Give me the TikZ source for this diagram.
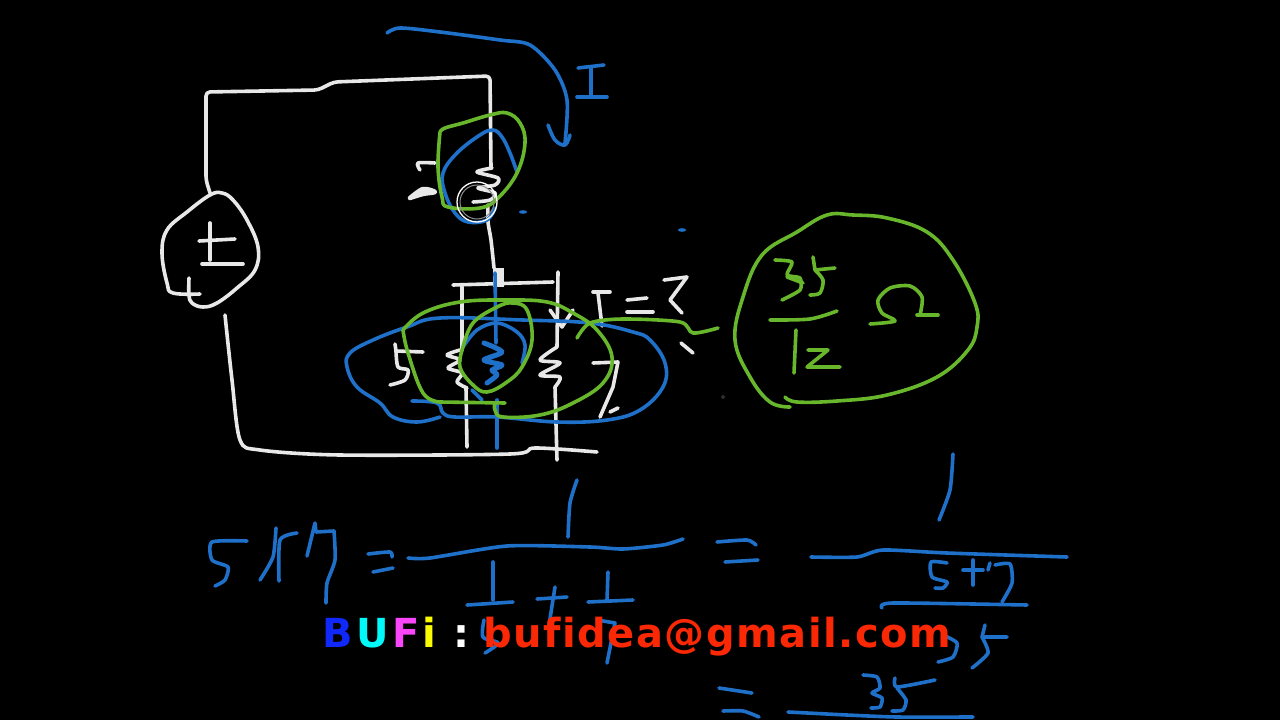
\documentclass[tikz,border=0pt]{standalone}
\usepackage{fontspec}
\newfontfamily\logofont[LetterSpace=3.8, Ligatures={NoCommon}]{DejaVu Sans}
\definecolor{inkblue}{RGB}{31,112,200}
\definecolor{inkgreen}{RGB}{104,182,44}
\definecolor{inkwhite}{RGB}{232,232,232}
\definecolor{logoblue}{RGB}{16,40,250}
\definecolor{logored}{RGB}{250,40,5}
\definecolor{logopink}{RGB}{250,70,250}
\definecolor{logocyan}{RGB}{0,250,250}
\definecolor{logoyellow}{RGB}{250,250,0}
\tikzset{
  ink/.style={line width=3.6pt, line cap=round, line join=round},
  whiteink/.style={ink, inkwhite},
  blueink/.style={ink, inkblue},
  greenink/.style={ink, inkgreen},
  logotext/.style={anchor=base west, inner sep=0pt, font=\fontsize{40}{40}\logofont\bfseries}
}
\begin{document}
\begin{tikzpicture}[x=1pt, y=-1pt]
\fill[black] (0,0) rectangle (1280,720);
\useasboundingbox (0,0) rectangle (1280,720);

%circuit
\draw[whiteink, rounded corners=4pt] (210,193) -- (206,180) -- (206,92) -- (318,90) -- (334,82) -- (490,76) -- (491,168);
\draw[whiteink] plot[smooth, tension=.5] coordinates {(492,168) (477,172) (498,178) (495,185) (478,188) (495,193) (490,200) (473,202)};
\draw[whiteink] plot[smooth, tension=.5] coordinates {(488,205) (488,222) (491,240) (494,268)};
\draw[whiteink, line width=11pt, line cap=butt] (498,268) -- (498,287);
\draw[whiteink] (453,285) -- (553,282);
\draw[whiteink] (462,287) -- (462,350);
\draw[whiteink] plot[smooth, tension=.5] coordinates {(460,350) (447,355) (460,360) (448,368) (462,373) (457,382) (467,388)};
\draw[whiteink] (466,388) -- (467,447);
\draw[whiteink] (558,272) -- (557,347);
\draw[whiteink] plot[smooth, tension=.5] coordinates {(557,347) (540,360) (560,363) (540,375) (560,377) (555,387)};
\draw[whiteink] (555,387) -- (557,460);
\draw[whiteink] (550,310) -- (562,327) -- (573,310);
\draw[whiteink] plot[smooth, tension=.5] coordinates {(225,315) (232,380) (240,440) (260,450) (340,455) (510,454) (535,448) (597,452)};
%source
\draw[whiteink] plot[smooth, tension=.65] coordinates {(200,294) (173,293) (167,283) (162,253) (167,230) (187,212) (210,195) (222,193) (233,200) (247,220) (258,247) (255,270) (237,288) (217,303) (203,307) (192,303) (189,295) (189,278)};
\draw[whiteink] (199,241) -- (235,239);
\draw[whiteink] (210,223) -- (210,260);
\draw[whiteink] (202,264) -- (243,264);
%white labels
\draw[whiteink] plot[smooth, tension=.5] coordinates {(420,170) (418,163) (435,163)};
\draw[whiteink, line width=4.5pt] plot[smooth, tension=.5] coordinates {(410,198) (423,189) (435,192) (423,194) (410,198)};
\draw[whiteink] (395,344) -- (396,351) -- (423,352);
\draw[whiteink] plot[smooth, tension=.5] coordinates {(396,351) (398,367) (408,370) (405,380) (390,385)};
\draw[whiteink] (593,363) -- (618,362) -- (613,387) -- (600,417);
\draw[whiteink] (610,412) -- (618,408);
\draw[whiteink] (593,292) -- (610,292);
\draw[whiteink] (598,293) -- (602,326);
\draw[whiteink] (627,300) -- (647,298);
\draw[whiteink] (627,312) -- (653,312);
\draw[whiteink] (664,280) -- (687,277) -- (670,300) -- (682,313);
\draw[whiteink] (681,343) -- (693,353);

%blue marks on the circuit
\draw[blueink] plot[smooth, tension=.5] coordinates {(387,33) (400,28) (440,32) (500,40) (530,45) (555,70) (567,100) (565,143)};
\draw[blueink] plot[smooth, tension=.6] coordinates {(548,125) (555,140) (565,145) (570,135)};
\draw[blueink] (578,68) -- (604,65);
\draw[blueink] (591,68) -- (591,97);
\draw[blueink] (577,97) -- (607,97);
\draw[blueink] plot[smooth, tension=.65] coordinates {(517,172) (510,153) (502,137) (493,130) (480,135) (457,153) (443,173) (445,193) (455,213) (468,222) (487,220) (495,208)};
\draw[blueink] plot[smooth, tension=.65] coordinates {(412,401) (437,403) (443,413) (455,417) (497,417) (557,422) (607,420) (640,410) (663,387) (665,363) (650,340) (633,332) (590,323) (523,320) (440,318) (407,327) (373,340) (350,353) (347,367) (357,387) (380,403) (393,417) (417,422) (440,417)};
\draw[blueink] plot[smooth, tension=.6] coordinates {(463,347) (477,330) (497,323) (517,332) (525,345) (522,363)};
\draw[blueink] (495,273) -- (496,343);
\draw[blueink, line width=5pt] plot[smooth, tension=.5] coordinates {(484,343) (502,352) (484,360) (502,365) (492,370) (497,375) (487,383)};
\draw[blueink] (472,390) -- (482,400);
\draw[blueink] (497,400) -- (497,448);
\fill[inkblue] (523,212) ellipse (4 and 1.8);
\fill[inkblue] (682,230) ellipse (4 and 1.8);

%green marks
\draw[greenink] plot[smooth, tension=.65] coordinates {(440,132) (438,167) (442,197) (448,207) (480,208) (498,198) (517,173) (525,143) (520,123) (507,113) (490,115) (463,123) (445,128) (440,132)};
\draw[greenink] plot[smooth, tension=.65] coordinates {(403,330) (423,313) (460,302) (507,300) (547,302) (573,313) (597,330) (612,357) (603,383) (573,403) (540,415) (503,417) (495,410) (495,403)};
\draw[greenink] (505,403) -- (440,402);
\draw[greenink] plot[smooth, tension=.65] coordinates {(440,402) (423,393) (408,353) (403,330)};
\draw[greenink] plot[smooth, tension=.5] coordinates {(577,338) (590,323) (623,319) (680,322) (693,333) (718,328)};
\draw[greenink] plot[smooth, tension=.65] coordinates {(463,347) (460,367) (473,385) (487,392) (507,382) (522,367) (532,340) (527,310) (513,303) (497,307) (473,323) (463,347)};

%result
\draw[greenink] plot[smooth, tension=.65] coordinates {(790,407) (770,402) (750,377) (735,340) (743,297) (762,255) (797,232) (827,215) (853,215) (887,218) (927,232) (953,260) (975,303) (977,327) (968,350) (937,377) (887,395) (837,401) (797,402) (785,397)};
\draw[greenink] plot[smooth, tension=.4] coordinates {(775,260) (792,262) (787,275) (800,278) (800,290) (782,300)};
\draw[greenink] (787,277) -- (803,283);
\draw[greenink] (813,257) -- (815,270) -- (835,268);
\draw[greenink] plot[smooth, tension=.5] coordinates {(815,270) (823,280) (820,293) (810,295)};
\draw[greenink] plot[smooth, tension=.5] coordinates {(770,320) (810,319) (837,311)};
\draw[greenink] (796,330) -- (794,373);
\draw[greenink] (808,350) -- (828,350) -- (807,367) -- (840,367);
\draw[greenink] plot[smooth, tension=.5] coordinates {(870,324) (895,321) (882,313) (878,300) (890,288) (910,286) (922,297) (920,315)};
\draw[greenink] (917,315) -- (938,315);

%parallel formula
\draw[blueink] plot[smooth, tension=.4] coordinates {(247,541) (212,542) (212,560) (228,567) (225,580) (215,586)};
\draw[blueink] plot[smooth, tension=.4] coordinates {(276,528) (273,557) (260,580)};
\draw[blueink] plot[smooth, tension=.4] coordinates {(297,533) (280,540) (279,581)};
\draw[blueink] (307,556) -- (315,523) -- (316,532) -- (334,531);
\draw[blueink] plot[smooth, tension=.4] coordinates {(334,531) (335,560) (327,583) (326,603)};
\draw[blueink] plot[smooth, tension=.4] coordinates {(368,554) (390,552) (392,557)};
\draw[blueink] (373,572) -- (393,568);
\draw[blueink] plot[smooth, tension=.4] coordinates {(408,558) (430,558) (507,546) (590,547) (623,549) (663,545) (683,539)};
\draw[blueink] plot[smooth, tension=.4] coordinates {(577,480) (570,503) (568,537)};
\draw[blueink] (493,562) -- (493,600);
\draw[blueink] (467,605) -- (513,602);
\draw[blueink] (537,599) -- (567,597);
\draw[blueink] (555,587) -- (549,625);
\draw[blueink] (608,572) -- (607,600);
\draw[blueink] (588,602) -- (633,600);
\draw[blueink] plot[smooth, tension=.5] coordinates {(484,620) (483,637) (498,643) (485,653)};
\draw[blueink] (597,620) -- (615,623) -- (607,663);

\draw[blueink] plot[smooth, tension=.4] coordinates {(717,542) (747,540) (756,545)};
\draw[blueink] (725,562) -- (758,560);
\draw[blueink] plot[smooth, tension=.4] coordinates {(811,557) (857,557) (883,550) (947,553) (1067,557)};
\draw[blueink] plot[smooth, tension=.4] coordinates {(953,454) (950,490) (939,520)};
\draw[blueink] plot[smooth, tension=.4] coordinates {(947,563) (931,562) (932,577) (947,582) (943,588) (935,588)};
\draw[blueink] (963,570) -- (983,570);
\draw[blueink] (973,560) -- (973,585);
\draw[blueink] (988,570) -- (990,563);
\draw[blueink] plot[smooth, tension=.4] coordinates {(995,565) (1010,564) (1012,583) (1002,602)};
\draw[blueink] plot[smooth, tension=.4] coordinates {(882,608) (893,603) (1027,605)};
\draw[blueink] plot[smooth, tension=.4] coordinates {(943,635) (957,643) (953,657) (938,662)};
\draw[blueink] (985,625) -- (982,637) -- (1007,637);
\draw[blueink] plot[smooth, tension=.4] coordinates {(982,637) (988,653) (972,668)};
\draw[blueink] (719,688) -- (752,693);
\draw[blueink] plot[smooth, tension=.4] coordinates {(723,711) (743,711) (759,717)};
\draw[blueink] plot[smooth, tension=.4] coordinates {(863,675) (877,677) (880,688) (872,693) (882,698) (880,707) (871,708)};
\draw[blueink] plot[smooth, tension=.4] coordinates {(895,678) (897,687) (935,680)};
\draw[blueink] plot[smooth, tension=.4] coordinates {(897,688) (906,700) (903,710) (892,711)};
\draw[blueink] plot[smooth, tension=.4] coordinates {(788,712) (847,715) (897,717) (973,717)};

%cursor and specks
\draw[white, line width=1.3pt] (477,202) circle (20);
\draw[gray!90, line width=1pt] (477,202) circle (17);
\fill[gray!35!black] (723,397) circle (2);

%logo
\node[logotext] (bufi) at (322,647) {\textcolor{logoblue}{B}\kern3.5pt\textcolor{logocyan}{U}\kern3.5pt\textcolor{logopink}{F}\kern3.5pt\textcolor{logoyellow}{i}};
\node[logotext] (colon) at (453,647) {\textcolor{white}{:}};
\node[logotext] (mail) at (483,647) {\textcolor{logored}{bufidea@gmail.com}};
\end{tikzpicture}
\end{document}
